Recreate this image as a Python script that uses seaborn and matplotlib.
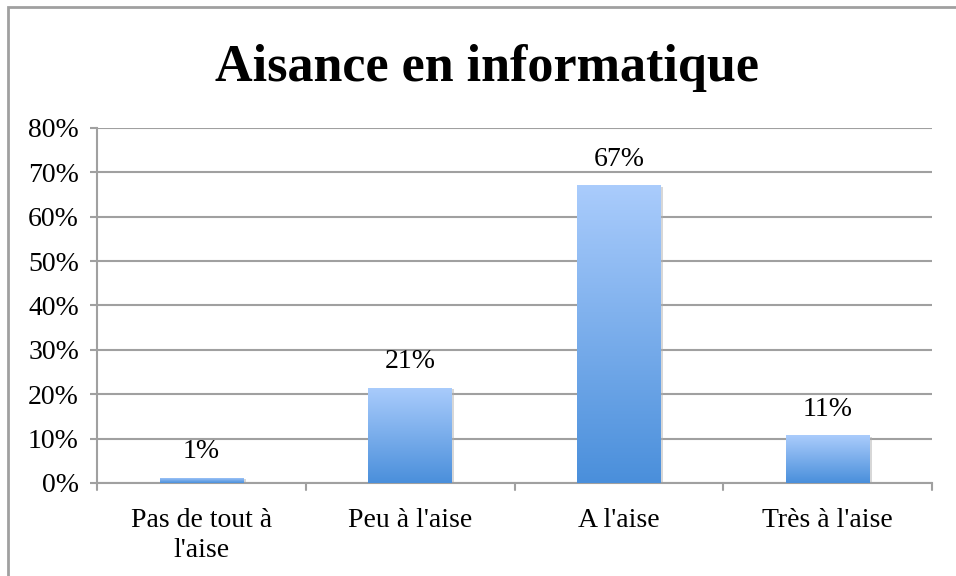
import numpy as np
import pandas as pd
import matplotlib.pyplot as plt
import seaborn as sns
from matplotlib.patches import Rectangle
from matplotlib.colors import LinearSegmentedColormap

categories = ["Pas de tout à\nl'aise", "Peu à l'aise", "A l'aise", "Très à l'aise"]
values = [1.2, 21.5, 67.1, 10.7]
value_labels = ["1%", "21%", "67%", "11%"]
yticks = [0, 10, 20, 30, 40, 50, 60, 70, 80]

sns.set_style('white')
plt.rcParams['font.family'] = ['Liberation Serif', 'DejaVu Serif']
plt.rcParams['text.color'] = 'black'
plt.rcParams['xtick.color'] = 'black'
plt.rcParams['ytick.color'] = 'black'

df = pd.DataFrame({'cat': categories, 'val': values})

fig = plt.figure(figsize=(9.56, 5.76), dpi=100)
ax = fig.add_axes([0.1015, 0.1615, 0.8735, 0.6163])

sns.barplot(data=df, x='cat', y='val', ax=ax, width=0.4, color='#7fb0ec', zorder=3)

# gradient fill + soft shadow for each bar
cmap = LinearSegmentedColormap.from_list('g', ['#4a8fdb', '#aaccfc'])
grad = np.linspace(0, 1, 256).reshape(-1, 1)
for p in ax.patches:
    x0, y0 = p.get_x(), p.get_y()
    w, h = p.get_width(), p.get_height()
    sh = Rectangle((x0 + 0.012, y0 - 0.35), w, h, color='#b0b0b0', alpha=0.5, zorder=2, lw=0)
    ax.add_patch(sh)
    im = ax.imshow(grad, cmap=cmap, aspect='auto', origin='lower',
                   extent=[x0, x0 + w, y0, y0 + h], zorder=4)
    im.set_clip_path(p)
    p.set_edgecolor('none')

for p, lab in zip(ax.patches, value_labels):
    ax.text(p.get_x() + p.get_width() / 2, p.get_height() + 3.0, lab,
            ha='center', va='bottom', fontsize=20, color='black', zorder=5)

ax.set_xlim(-0.5, 3.5)
ax.set_ylim(0, 80)
ax.set_yticks(yticks)
ax.set_yticklabels([f"{t}%" for t in yticks], fontsize=20, color='black')
ax.set_xlabel('')
ax.set_ylabel('')
ax.set_xticks(range(4))
ax.set_xticklabels(categories, fontsize=20, linespacing=1.25, color='black')
ax.tick_params(axis='x', length=0, pad=18)
ax.tick_params(axis='y', length=5, color='#a0a0a0', width=1.5, pad=8, left=True)
for t in np.arange(-0.5, 4, 1):
    ax.plot([t, t], [0, -1.6], color='#a0a0a0', lw=1.5, clip_on=False, zorder=1)

ax.grid(axis='y', color='#a0a0a0', lw=1.5, zorder=0)
ax.set_axisbelow(True)
for s in ['top', 'right']:
    ax.spines[s].set_visible(False)
for s in ['left', 'bottom']:
    ax.spines[s].set_color('#a0a0a0')
    ax.spines[s].set_linewidth(1.5)

fig.text(0.509, 0.882, 'Aisance en informatique', ha='center', va='center',
         fontsize=37.5, fontweight='bold', color='black')

fig.patches.append(Rectangle((7.5 / 956, -0.1), 1.2, 1.1 - 7 / 576, transform=fig.transFigure,
                             fill=False, edgecolor='#a0a0a0', lw=2))

fig.savefig('out.png', dpi=100)
